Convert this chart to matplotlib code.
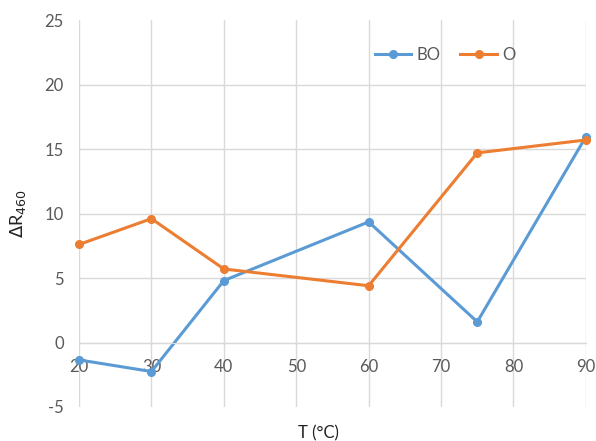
import matplotlib.pyplot as plt

plt.rcParams['font.family'] = ['Lato', 'DejaVu Sans']
plt.rcParams['axes.unicode_minus'] = False

temps = [20, 30, 40, 60, 75, 90]
bo_vals = [-1.35, -2.25, 4.8, 9.35, 1.6, 15.95]
o_vals = [7.6, 9.6, 5.7, 4.4, 14.7, 15.7]

x_ticks = [20, 30, 40, 50, 60, 70, 80, 90]
y_ticks = [-5, 0, 5, 10, 15, 20, 25]

grey = '#595959'
grid_col = '#d9d9d9'

fig = plt.figure(figsize=(5.96, 4.41), dpi=100)
ax = fig.add_axes([0.1326, 0.0771, 0.8504, 0.8775])

ax.plot(temps, bo_vals, color='#5b9bd5', lw=2.2, marker='o', ms=5.5, label='BO', clip_on=False)
ax.plot(temps, o_vals, color='#ed7d31', lw=2.2, marker='o', ms=5.5, label='O', clip_on=False)

ax.set_xlim(20, 90)
ax.set_ylim(-5, 25)
ax.set_xticks(x_ticks)
ax.set_yticks(y_ticks)

for yv in [0, 5, 10, 15, 20]:
    ax.axhline(yv, color=grid_col, lw=1, zorder=0)
for xv in x_ticks:
    ax.axvline(xv, color=grid_col, lw=1, zorder=0)

for s in ['top', 'right', 'left']:
    ax.spines[s].set_visible(False)
ax.spines['bottom'].set_position(('data', 0))
ax.spines['bottom'].set_color(grid_col)

ax.tick_params(axis='both', length=0, labelsize=12, labelcolor=grey)
ax.tick_params(axis='x', pad=12)
ax.tick_params(axis='y', pad=11)

ax.set_ylabel(r'$\Delta$R$_{460}$', fontsize=13, color='#222222', labelpad=12)
fig.text(0.534, 0.0, 'T (°C)', ha='center', va='bottom', fontsize=12, color='#222222')

leg = ax.legend(loc='upper right', bbox_to_anchor=(0.89, 0.97), ncol=2, frameon=False,
                fontsize=12, handlelength=2.2, columnspacing=1.2, handletextpad=0.3)
for t in leg.get_texts():
    t.set_color(grey)

fig.savefig('out.png', dpi=100)
